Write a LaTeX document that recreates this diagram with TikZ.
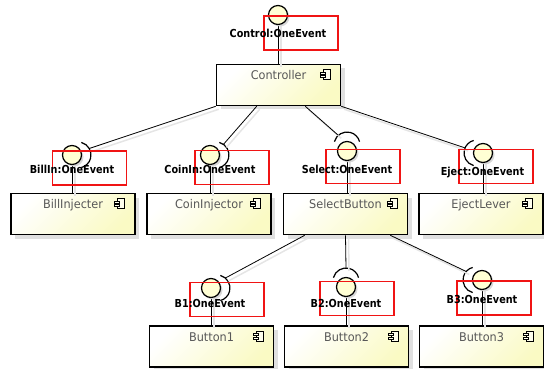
\documentclass[tikz,border=0pt]{standalone}
\usepackage{fontspec}
\setmainfont{DejaVu Sans}
\newfontfamily\lblfont{DejaVu Sans}[FakeStretch=0.88]
\newfontfamily\namefont{DejaVu Sans}[FakeStretch=0.94]
\usetikzlibrary{shadows}
\definecolor{compfill}{RGB}{250,250,196}
\definecolor{iffill}{RGB}{255,255,212}
\definecolor{namegray}{RGB}{88,88,88}
\definecolor{hlred}{RGB}{240,20,20}
\tikzset{
  comp/.style={draw, line width=1.6pt, minimum width=124pt, minimum height=41pt,
    inner ysep=3pt, text height=12pt, text depth=23pt,
    top color=white, bottom color=compfill, shading angle=45,
    font=\namefont\fontsize{12}{14}\selectfont, text=namegray,
    drop shadow={shadow xshift=4pt, shadow yshift=-4pt, fill=black!12, opacity=1}},
  iface/.style={circle, draw, line width=1.2pt, minimum size=19pt, inner sep=0pt,
    fill=iffill, drop shadow={shadow xshift=2pt, shadow yshift=-2pt, fill=black!15, opacity=1}},
  ilabel/.style={font=\lblfont\bfseries\fontsize{11}{13}\selectfont, inner sep=0pt},
  hl/.style={draw=hlred, line width=1.1pt, minimum width=74pt, minimum height=34pt, inner sep=0pt},
  wire/.style={line width=0.8pt,
    preaction={draw=black!10, line width=1.5pt, transform canvas={shift={(3pt,-3pt)}}}},
  sockline/.style={line width=1.2pt},
}
% component glyph in the upper right corner of a box
\newcommand{\compicon}[1]{%
  \begin{scope}[shift={(#1.north east)}, line width=0.7pt]
    \draw[fill=compfill!30] (-18,6) rectangle (-11,16);
    \draw[fill=compfill!30] (-21,8.3) rectangle (-16,10.3);
    \draw[fill=compfill!30] (-21,11.7) rectangle (-16,13.7);
  \end{scope}}
% required interface: arc facing #2, connector attaches at angle #3
\newcommand{\socketarc}[3]{%
  \path (#1) ++(#2:6) coordinate (#1-c);
  \draw[sockline] (#1-c) ++(#2-75:13) arc[start angle=#2-75, end angle=#2+75, radius=13];
  \path (#1-c) ++(#3:13) coordinate (#1-e);}

\begin{document}
\begin{tikzpicture}[x=1pt, y=-1pt]
\useasboundingbox (0,0) rectangle (544,369);

% components
\node[comp] (ctrl) at (278.5,85) {Controller};
\node[comp] (billinj) at (73,214) {BillInjecter};
\node[comp] (coininj) at (209,214) {CoinInjector};
\node[comp] (selbtn) at (345.5,214) {SelectButton};
\node[comp] (ejlever) at (481,214) {EjectLever};
\node[comp] (btn1) at (211.5,346.5) {Button1};
\node[comp] (btn2) at (346.5,346.5) {Button2};
\node[comp] (btn3) at (481.5,346.5) {Button3};
\foreach \c in {ctrl,billinj,coininj,selbtn,ejlever,btn1,btn2,btn3}
  \compicon{\c};

% provided interfaces
\coordinate (ctrlif-p) at (278,15);
\coordinate (billin-p) at (72,155);
\coordinate (coinin-p) at (210,155);
\coordinate (select-p) at (347,151);
\coordinate (eject-p) at (483,153);
\coordinate (b1-p) at (211,288);
\coordinate (b2-p) at (346,287);
\coordinate (b3-p) at (482,280);

\draw[wire] (ctrlif-p) -- (ctrlif-p |- ctrl.north);
\draw[wire] (billin-p) -- (billin-p |- billinj.north);
\draw[wire] (coinin-p) -- (coinin-p |- coininj.north);
\draw[wire] (select-p) -- (select-p |- selbtn.north);
\draw[wire] (eject-p) -- (eject-p |- ejlever.north);
\draw[wire] (b1-p) -- (b1-p |- btn1.north);
\draw[wire] (b2-p) -- (b2-p |- btn2.north);
\draw[wire] (b3-p) -- (b3-p |- btn3.north);

\node[iface] (ctrlif) at (ctrlif-p) {};
\node[iface] (billin) at (billin-p) {};
\node[iface] (coinin) at (coinin-p) {};
\node[iface] (select) at (select-p) {};
\node[iface] (eject) at (eject-p) {};
\node[iface] (b1) at (b1-p) {};
\node[iface] (b2) at (b2-p) {};
\node[iface] (b3) at (b3-p) {};

% required interfaces
\socketarc{billin}{0}{-30}
\socketarc{coinin}{0}{-55}
\socketarc{select}{-90}{-132}
\socketarc{eject}{180}{203}
\socketarc{b1}{0}{-50}
\socketarc{b2}{-90}{-90}
\socketarc{b3}{180}{221}

\draw[wire] (ctrl.south west) -- (billin-e);
\draw[wire] ([xshift=41pt]ctrl.south west) -- (coinin-e);
\draw[wire] ([xshift=-36pt]ctrl.south east) -- (select-e);
\draw[wire] (ctrl.south east) -- (eject-e);
\draw[wire] ([xshift=22pt]selbtn.south west) -- (b1-e);
\draw[wire] (selbtn.south) -- (b2-e);
\draw[wire] ([xshift=-18pt]selbtn.south east) -- (b3-e);

% red frames
\node[hl] (ctrlif-h) at (301,33) {};
\node[hl] (billin-h) at (89.5,168) {};
\node[hl] (coinin-h) at (232,167.5) {};
\node[hl] (select-h) at (363,166.5) {};
\node[hl] (eject-h) at (496,166.5) {};
\node[hl] (b1-h) at (227,299.5) {};
\node[hl] (b2-h) at (357,298.5) {};
\node[hl] (b3-h) at (494,298) {};

% interface names
\node[ilabel] (ctrlif-l) at (278,33) {Control:OneEvent};
\node[ilabel] (billin-l) at (72,169) {BillIn:OneEvent};
\node[ilabel] (coinin-l) at (210,169) {CoinIn:OneEvent};
\node[ilabel] (select-l) at (347,169) {Select:OneEvent};
\node[ilabel] (eject-l) at (482.5,172.5) {Eject:OneEvent};
\node[ilabel] (b1-l) at (210,303) {B1:OneEvent};
\node[ilabel] (b2-l) at (346,303) {B2:OneEvent};
\node[ilabel] (b3-l) at (482,299) {B3:OneEvent};
\end{tikzpicture}
\end{document}
